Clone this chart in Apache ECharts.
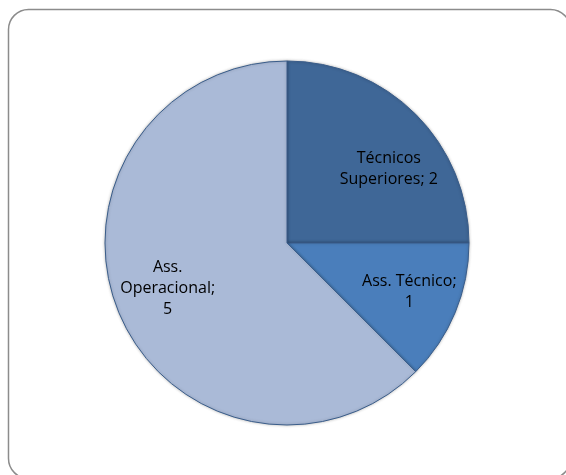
<!DOCTYPE html>
<html>
<head>
<meta charset="utf-8">
<script src="https://cdn.jsdelivr.net/npm/echarts@6/dist/echarts.min.js"></script>
<style>
  html, body { margin: 0; padding: 0; background: #fff; }
  #chart { width: 566px; height: 475px; }
</style>
</head>
<body>
<div id="chart"></div>
<script>
// Staff by category
const categories = ['Técnicos Superiores', 'Ass. Técnico', 'Ass. Operacional'];
const counts = [2, 1, 5];
// Label text, wrapped the way it appears in the chart
const labelPrefix = ['Técnicos\nSuperiores; ', 'Ass. Técnico;\n', 'Ass.\nOperacional;\n'];
const colors = ['#3f6797', '#4a7ebb', '#aabad7'];

const CX = 287, CY = 243, R = 182;
const LABEL_DIST = 127;
// small best-fit adjustments for the inside labels
const LABEL_NUDGE = [[12, 16], [5, 0], [-2, -3]];

const chart = echarts.init(document.getElementById('chart'), null, { renderer: 'canvas' });

chart.setOption({
  animation: false,
  backgroundColor: '#ffffff',
  graphic: [{
    type: 'rect',
    shape: { x: 8.5, y: 9.5, width: 562, height: 469, r: 20 },
    style: { fill: 'none', stroke: '#8c8c8c', lineWidth: 1.5 },
    silent: true
  }],
  series: [{
    type: 'pie',
    center: [CX, CY],
    radius: [0, R],
    startAngle: 90,
    clockwise: true,
    data: categories.map((name, i) => ({
      name,
      value: counts[i],
      itemStyle: { color: colors[i] }
    })),
    itemStyle: {
      borderColor: '#3a5d8a',
      borderWidth: 1,
      shadowBlur: 3,
      shadowColor: 'rgba(0,0,0,0.25)'
    },
    label: {
      show: true,
      position: 'inside',
      formatter: p => labelPrefix[p.dataIndex] + p.value,
      color: '#000',
      fontFamily: 'Open Sans',
      fontSize: 16,
      lineHeight: 21,
      align: 'center'
    },
    labelLine: { show: false },
    // push the inside labels further out along each slice's bisector
    labelLayout: function (params) {
      const r = params.labelRect;
      const lx = r.x + r.width / 2;
      const ly = r.y + r.height / 2;
      const vx = lx - CX, vy = ly - CY;
      const d = Math.sqrt(vx * vx + vy * vy) || 1;
      const k = LABEL_DIST / d - 1;
      const n = LABEL_NUDGE[params.dataIndex];
      return { dx: vx * k + n[0], dy: vy * k + n[1] };
    },
    emphasis: { disabled: true }
  }]
});
</script>
</body>
</html>
